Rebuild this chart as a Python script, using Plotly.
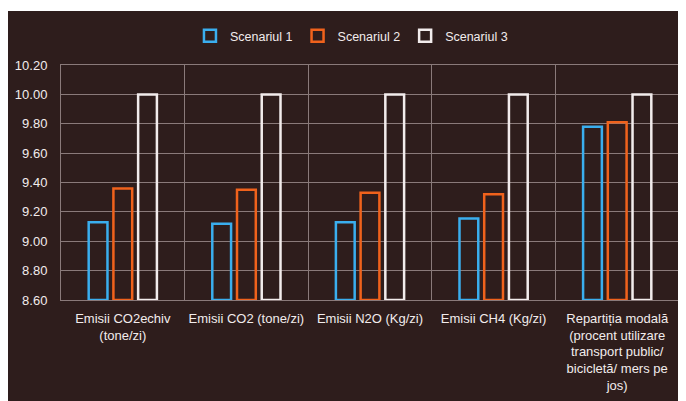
import plotly.graph_objects as go

categories = [
    "Emisii CO2echiv<br>(tone/zi)",
    "Emisii CO2 (tone/zi)",
    "Emisii N2O (Kg/zi)",
    "Emisii CH4 (Kg/zi)",
    "Repartiția modală<br>(procent utilizare<br>transport public/<br>bicicletă/ mers pe<br>jos)",
]
scenariul_1 = [9.13, 9.12, 9.13, 9.155, 9.78]
scenariul_2 = [9.36, 9.35, 9.33, 9.32, 9.81]
scenariul_3 = [10.0, 10.0, 10.0, 10.0, 10.0]
series_names = ["Scenariul 1", "Scenariul 2", "Scenariul 3"]
y_min, y_max = 8.60, 10.20
y_ticks = [8.6, 8.8, 9.0, 9.2, 9.4, 9.6, 9.8, 10.0, 10.2]
y_tick_labels = ["8.60", "8.80", "9.00", "9.20", "9.40", "9.60", "9.80", "10.00", "10.20"]

BG = "#2e1d1c"
GRID = "#8a7a7a"
colors = ["#3aaeee", "#f0621c", "#f2ecec"]
FONT = "Liberation Sans, Arial, sans-serif"

fig = go.Figure()
for name, vals, col in zip(series_names, [scenariul_1, scenariul_2, scenariul_3], colors):
    fig.add_trace(go.Bar(
        name=name,
        x=categories,
        y=[v - y_min for v in vals],
        base=y_min,
        customdata=vals,
        hovertemplate="%{customdata:.2f}<extra>" + name + "</extra>",
        marker=dict(color="rgba(0,0,0,0)", line=dict(color=col, width=2.5)),
        cliponaxis=False,
    ))

# page body has an 8px margin, so the figure starts at (8, 8)
W, H = 678, 393
L, R, T, B = 53, 7, 57, 101
pw, ph = W - L - R, H - T - B

def px_x(px):
    return (px - L) / pw

def px_y(py):
    return (H - B - py) / ph

shapes = [
    dict(type="rect", xref="paper", yref="paper", x0=px_x(-2), x1=px_x(W + 2), y0=px_y(3), y1=px_y(-2),
         fillcolor="white", line=dict(width=0), layer="above"),
]

fig.update_layout(
    width=W, height=H,
    margin=dict(l=L, r=R, t=T, b=B, autoexpand=False),
    paper_bgcolor=BG,
    plot_bgcolor=BG,
    barmode="group",
    bargap=0.4,
    bargroupgap=0.24,
    font=dict(family=FONT, size=13, color="#f2ecec"),
    showlegend=True,
    legend=dict(orientation="h", x=0.47, xanchor="center", y=px_y(28), yanchor="middle",
                font=dict(size=12.5, color="#f2ecec"), itemwidth=30, bgcolor="rgba(0,0,0,0)",
                traceorder="normal"),
    shapes=shapes,
    xaxis=dict(
        type="category",
        tickson="boundaries",
        showgrid=True, gridcolor=GRID, gridwidth=1,
        showline=True, linecolor=GRID, linewidth=1, mirror=True,
        ticks="", ticklabelstandoff=6,
        tickfont=dict(size=13, color="#f2ecec"),
        tickangle=0,
    ),
    yaxis=dict(
        range=[y_min, y_max],
        tickvals=y_ticks, ticktext=y_tick_labels,
        showgrid=True, gridcolor=GRID, gridwidth=1,
        showline=True, linecolor=GRID, linewidth=1, mirror=True,
        zeroline=False,
        ticks="", ticklabelstandoff=10,
        tickfont=dict(size=13, color="#f2ecec"),
    ),
)

fig.write_html("out.html")
